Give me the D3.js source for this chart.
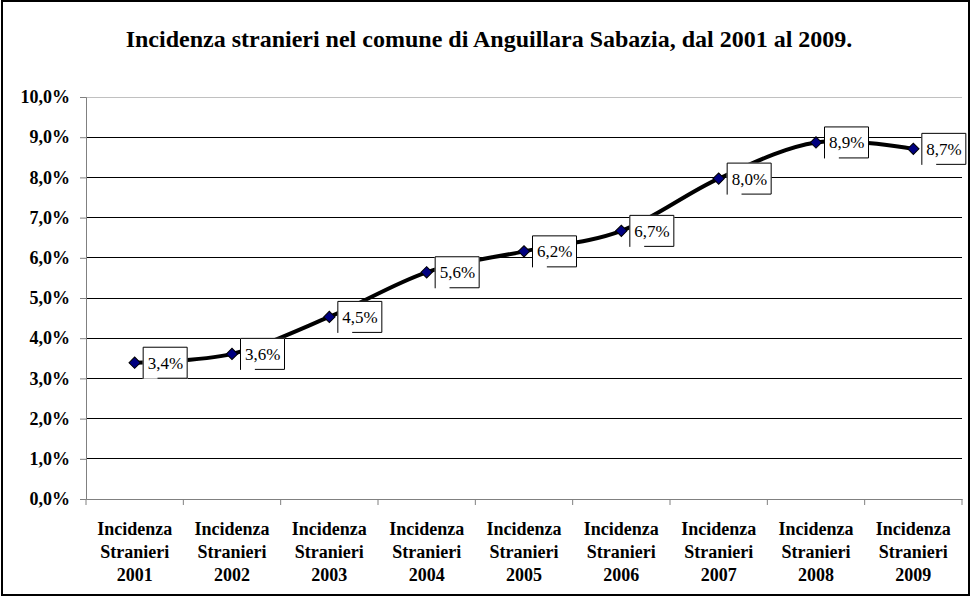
<!DOCTYPE html>
<html>
<head>
<meta charset="utf-8">
<script src="https://cdn.jsdelivr.net/npm/d3@7"></script>
<style>
  body { margin: 0; background: #fff; }
  svg text { font-family: "Times New Roman", "Liberation Serif", Times, serif; }
</style>
</head>
<body>
<svg id="chart" width="971" height="596"></svg>
<script>
// Chart data
const titleText = "Incidenza stranieri nel comune di Anguillara Sabazia, dal 2001 al 2009.";
const years = ["2001", "2002", "2003", "2004", "2005", "2006", "2007", "2008", "2009"];
const values = [3.39, 3.61, 4.53, 5.64, 6.16, 6.67, 7.97, 8.87, 8.71];
const yTicks = [0, 1, 2, 3, 4, 5, 6, 7, 8, 9, 10];

const svg = d3.select("#chart");
const W = +svg.attr("width");
const H = +svg.attr("height");

const margin = { left: 86, right: 9, top: 97, bottom: 97 };
const plotW = W - margin.left - margin.right;
const plotH = H - margin.top - margin.bottom;

// outer border
svg.append("rect")
    .attr("x", 2).attr("y", 1)
    .attr("width", W - 4).attr("height", H - 2)
    .attr("fill", "#fff")
    .attr("stroke", "#000")
    .attr("stroke-width", 2);

svg.append("text")
    .attr("x", 489)
    .attr("y", 46.5)
    .attr("text-anchor", "middle")
    .attr("font-size", "24px")
    .attr("font-weight", "bold")
    .text(titleText);

const g = svg.append("g").attr("transform", `translate(${margin.left},${margin.top})`);

const x = d3.scaleBand().domain(years).range([0, plotW]);
const y = d3.scaleLinear().domain([0, 10]).range([plotH, 0]);

const fmt = v => d3.format(".1f")(v).replace(".", ",") + "%";

// gridlines
g.selectAll(".grid")
    .data(yTicks.filter(t => t > 0))
    .enter().append("line")
    .attr("x1", 0).attr("x2", plotW)
    .attr("y1", d => y(d)).attr("y2", d => y(d))
    .attr("stroke", d => d === 10 ? "#c0c0c0" : "#000")
    .attr("stroke-width", 1)
    .attr("shape-rendering", "crispEdges");

// y axis
const yAxis = g.append("g")
    .call(d3.axisLeft(y).tickValues(yTicks).tickSize(6).tickPadding(10).tickFormat(fmt));
yAxis.attr("font-family", null);
yAxis.select(".domain").attr("stroke", "#808080");
yAxis.selectAll(".tick line").attr("stroke", "#808080");
yAxis.selectAll("text")
    .attr("font-size", "18px")
    .attr("font-weight", "bold")
    .attr("fill", "#000");

// x axis
const xAxis = g.append("g")
    .attr("transform", `translate(0,${plotH})`)
    .call(d3.axisBottom(x).tickSize(0).tickFormat(""));
xAxis.select(".domain").attr("stroke", "#808080");
xAxis.selectAll(".tick").remove();

// category boundary ticks
g.selectAll(".xtick")
    .data(d3.range(years.length + 1))
    .enter().append("line")
    .attr("x1", i => i * x.step()).attr("x2", i => i * x.step())
    .attr("y1", plotH).attr("y2", plotH + 6)
    .attr("stroke", "#808080");

// category labels
const cat = g.selectAll(".cat")
    .data(years)
    .enter().append("text")
    .attr("text-anchor", "middle")
    .attr("font-size", "18px")
    .attr("font-weight", "bold")
    .attr("transform", d => `translate(${x(d) + x.bandwidth() / 2},${plotH + 36})`);
cat.append("tspan").attr("x", 0).attr("dy", 0).text("Incidenza");
cat.append("tspan").attr("x", 0).attr("dy", 23).text("Stranieri");
cat.append("tspan").attr("x", 0).attr("dy", 23).text(d => d);

// smoothed line
const pts = years.map((yr, i) => [x(yr) + x.bandwidth() / 2, y(values[i])]);
g.append("path")
    .datum(pts)
    .attr("fill", "none")
    .attr("stroke", "#000")
    .attr("stroke-width", 4)
    .attr("d", d3.line().curve(d3.curveCardinal.tension(0)));

// data labels
const lab = g.selectAll(".lab")
    .data(pts)
    .enter().append("g")
    .attr("transform", d => `translate(${d[0] + 8},${d[1] - 16})`);
const bw = 45, bh = 32;
lab.append("rect")
    .attr("width", bw).attr("height", bh)
    .attr("fill", "#fff");
lab.append("path")
    .attr("fill", "none")
    .attr("stroke", "#000")
    .attr("stroke-width", 1)
    .attr("d", `M0.5,${bh}V0.5H${bw - 0.5}V${bh - 0.5}H${bw * 0.33}`);
lab.append("text")
    .attr("x", 5)
    .attr("y", bh / 2 + 6)
    .attr("font-size", "17px")
    .text((d, i) => fmt(values[i]));

// markers
g.selectAll(".mk")
    .data(pts)
    .enter().append("path")
    .attr("transform", d => `translate(${d[0]},${d[1]}) rotate(45)`)
    .attr("d", "M-4,-4H4V4H-4Z")
    .attr("fill", "#000080")
    .attr("stroke", "#000")
    .attr("stroke-width", 1);
</script>
</body>
</html>
